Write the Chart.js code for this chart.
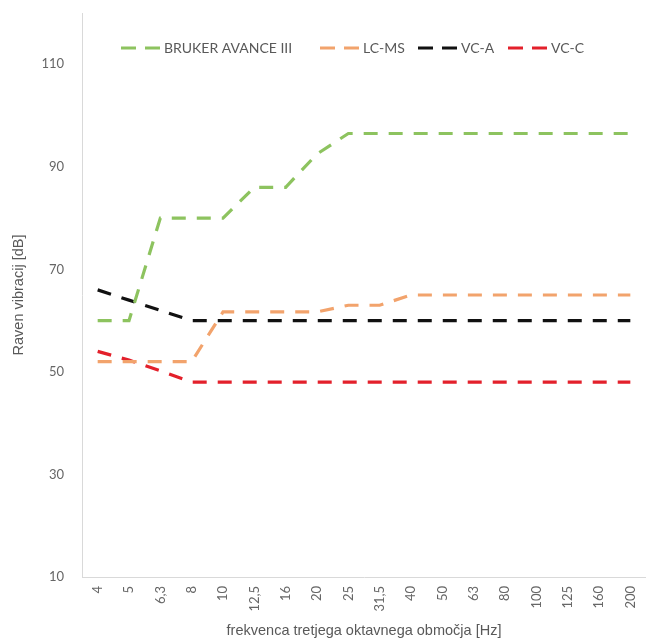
<!DOCTYPE html>
<html>
<head>
<meta charset="utf-8">
<script src="https://cdn.jsdelivr.net/npm/chart.js@4/dist/chart.umd.min.js"></script>
<style>
  html, body { margin: 0; padding: 0; background: #ffffff; }
  #wrap { width: 646px; height: 641px; }
</style>
</head>
<body>
<div id="wrap"><canvas id="chart" width="646" height="641"></canvas></div>
<script>
// Third-octave band centre frequencies [Hz]
const frequencies = ['4', '5', '6,3', '8', '10', '12,5', '16', '20', '25', '31,5',
                     '40', '50', '63', '80', '100', '125', '160', '200'];

// Vibration criteria levels [dB]
const brukerAvance = [60, 60, 80, 80, 80, 86, 86, 92.5, 96.5, 96.5, 96.5, 96.5, 96.5, 96.5, 96.5, 96.5, 96.5, 96.5];
const lcMs         = [52, 52, 52, 52, 61.7, 61.7, 61.7, 61.7, 63, 63, 65, 65, 65, 65, 65, 65, 65, 65];
const vcA          = [66, 64, 62, 60, 60, 60, 60, 60, 60, 60, 60, 60, 60, 60, 60, 60, 60, 60];
const vcC          = [54, 52.3, 50.2, 48, 48, 48, 48, 48, 48, 48, 48, 48, 48, 48, 48, 48, 48, 48];

const yTicks = [10, 30, 50, 70, 90, 110];

const DASH = [14, 11];

function series(label, data, color) {
  return {
    label: label,
    data: data,
    borderColor: color,
    backgroundColor: color,
    borderWidth: 3.2,
    borderDash: DASH,
    pointRadius: 0,
    tension: 0,
    fill: false
  };
}

// Legend drawn inside the plot area: a dashed sample followed by the series name
const dashLegend = {
  id: 'dashLegend',
  afterDraw(chart, args, opts) {
    const ctx = chart.ctx;
    ctx.save();
    ctx.font = opts.font;
    ctx.textBaseline = 'middle';
    const y = opts.y;
    chart.data.datasets.forEach((ds, i) => {
      let x = opts.starts[i];
      ctx.strokeStyle = ds.borderColor;
      ctx.lineWidth = ds.borderWidth;
      ctx.setLineDash([15, 9]);
      ctx.beginPath();
      ctx.moveTo(x, y);
      ctx.lineTo(x + opts.sample, y);
      ctx.stroke();
      ctx.setLineDash([]);
      x += opts.sample + opts.gap;
      ctx.fillStyle = opts.color;
      ctx.fillText(ds.label, x, y);
    });
    ctx.restore();
  }
};

new Chart(document.getElementById('chart'), {
  type: 'line',
  data: {
    labels: frequencies,
    datasets: [
      series('BRUKER AVANCE III', brukerAvance, '#8dc35f'),
      series('LC-MS', lcMs, '#f2a36c'),
      series('VC-A', vcA, '#111111'),
      series('VC-C', vcC, '#e3202b')
    ]
  },
  options: {
    responsive: false,
    animation: false,
    devicePixelRatio: 1,
    layout: { padding: { top: 13, right: 0, bottom: 0, left: 0 } },
    plugins: {
      legend: { display: false },
      tooltip: { enabled: false },
      dashLegend: {
        starts: [121, 320, 418, 508], y: 48, sample: 39, gap: 4,
        font: '14px Lato', color: '#595959'
      }
    },
    scales: {
      x: {
        offset: true,
        grid: { display: false, drawTicks: false },
        border: { display: true, color: '#d9d9d9', width: 1 },
        ticks: {
          autoSkip: false, minRotation: 90, maxRotation: 90, padding: 9,
          color: '#666666', font: { family: 'Lato', size: 13 }
        },
        title: {
          display: true,
          text: 'frekvenca tretjega oktavnega območja [Hz]',
          color: '#595959',
          font: { family: 'Liberation Sans', size: 14.5 },
          padding: { top: 0, bottom: 1 }
        },
        afterFit(scale) {
          scale.height = 64;
          scale.paddingLeft = 0;
          scale.paddingRight = 0;
        }
      },
      y: {
        min: 10,
        max: 120,
        grid: { display: false, drawTicks: false },
        border: { display: true, color: '#d9d9d9', width: 1 },
        afterBuildTicks(scale) { scale.ticks = yTicks.map(v => ({ value: v })); },
        ticks: {
          padding: 18, color: '#666666', font: { family: 'Lato', size: 13 }
        },
        title: {
          display: true,
          text: 'Raven vibracij [dB]',
          color: '#595959',
          font: { family: 'Liberation Sans', size: 14.5 },
          padding: { top: 10, bottom: 0 }
        },
        afterFit(scale) {
          scale.width = 82;
          scale.paddingTop = 0;
          scale.paddingBottom = 0;
        }
      }
    }
  },
  plugins: [dashLegend]
});
</script>
</body>
</html>
